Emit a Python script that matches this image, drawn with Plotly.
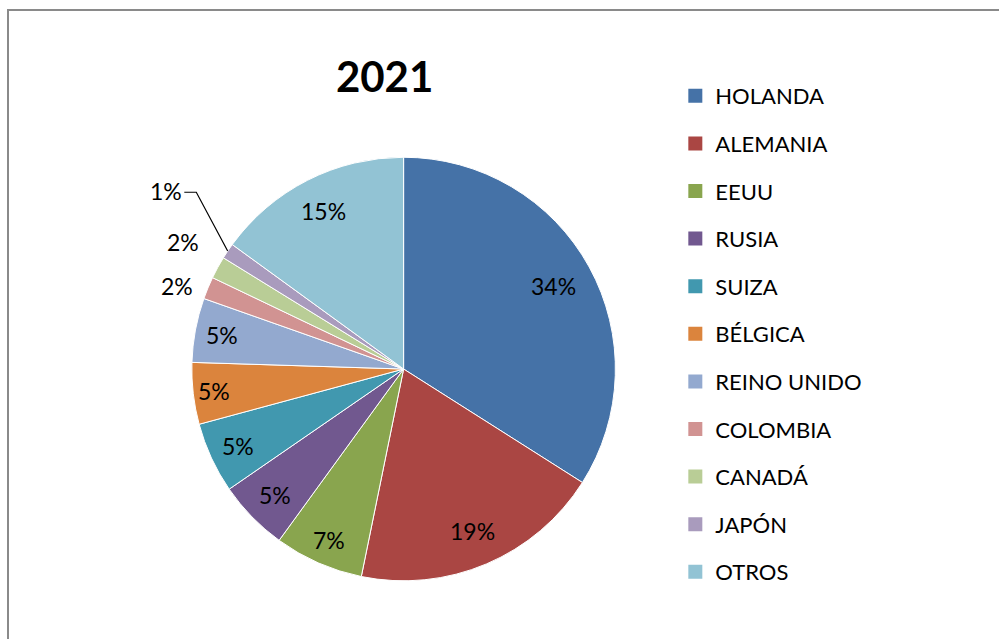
import math
import plotly.graph_objects as go

title_text = "2021"
countries = ["HOLANDA", "ALEMANIA", "EEUU", "RUSIA", "SUIZA", "BÉLGICA",
             "REINO UNIDO", "COLOMBIA", "CANADÁ", "JAPÓN", "OTROS"]
shares = [34.0, 19.2, 6.8, 5.4, 5.4, 4.7, 4.9, 1.7, 1.7, 1.2, 15.0]
colors = ["#4572A7", "#AA4643", "#89A54E", "#71588F", "#4198AF", "#DB843D",
          "#93A9CF", "#D19392", "#B9CD96", "#A99BBD", "#92C3D4"]

# label placement style (radius as fraction of pie radius, angle nudge in degrees)
label_r = [0.81, 0.83, 0.88, 0.85, 0.86, 0.90, 0.87, 1.14, 1.20, 1.40, 0.835]
label_dang = [0, 0, 0, 0, 0, 0, 0, -2.5, 1.3, 3.0, 0]
leader_idx = 9  # label with an elbow leader line

W, H = 999, 639
FONT = "Lato, 'Noto Sans', sans-serif"
dom_x = [0.192, 0.616]
dom_y = [0.091, 0.754]

fig = go.Figure()
fig.add_trace(go.Pie(
    labels=countries, values=shares, sort=False, direction="clockwise",
    rotation=0, marker=dict(colors=colors, line=dict(color="white", width=1)),
    textinfo="none", showlegend=False, hoverinfo="label+percent",
    domain=dict(x=dom_x, y=dom_y),
))

for name, col in zip(countries, colors):
    fig.add_trace(go.Scatter(
        x=[None], y=[None], mode="markers", name=name, legendgroup=name,
        marker=dict(symbol="square", size=14, color=col),
    ))

# pie geometry in pixels
cx = (dom_x[0] + dom_x[1]) / 2 * W
cy = (1 - (dom_y[0] + dom_y[1]) / 2) * H
R = min((dom_x[1] - dom_x[0]) * W, (dom_y[1] - dom_y[0]) * H) / 2
total = sum(shares)


def to_paper(px, py):
    return px / W, 1 - py / H


annotations = []
shapes = [dict(type="rect", xref="paper", yref="paper",
               x0=8 / W, x1=1.02, y0=-0.02, y1=1 - 10 / H,
               line=dict(color="#8a8a8a", width=2))]
cum = 0.0
for i, v in enumerate(shares):
    mid = (cum + v / 2) / total * 360.0
    cum += v
    ang = math.radians(mid + label_dang[i])
    r = label_r[i] * R
    px = cx + r * math.sin(ang)
    py = cy - r * math.cos(ang)
    pct = round(v / total * 100)
    ax_, ay_ = to_paper(px, py)
    annotations.append(dict(x=ax_, y=ay_, xref="paper", yref="paper",
                            text=f"{pct}%", showarrow=False,
                            xanchor="center", yanchor="middle",
                            font=dict(family=FONT, size=23, color="black")))
    if i == leader_idx:
        a = math.radians(mid)
        ex, ey = cx + R * math.sin(a), cy - R * math.cos(a)
        x1, y1 = to_paper(px + 18, py + 1)
        x2, y2 = to_paper(px + 30, py + 1)
        x3, y3 = to_paper(ex, ey)
        shapes.append(dict(type="path", xref="paper", yref="paper",
                           path=f"M {x1},{y1} L {x2},{y2} L {x3},{y3}",
                           line=dict(color="black", width=1.2)))

fig.update_layout(
    width=W, height=H,
    margin=dict(l=0, r=0, t=0, b=0),
    paper_bgcolor="white", plot_bgcolor="white",
    font=dict(family=FONT, color="black"),
    title=dict(text="<b>" + title_text + "</b>", x=0.385, xanchor="center",
               y=1 - 77 / H, yanchor="middle",
               font=dict(family=FONT, size=42, color="black")),
    legend=dict(x=0.676, y=1 - 75 / H, xanchor="left", yanchor="top",
                font=dict(family=FONT, size=22, color="black"),
                tracegroupgap=16, bgcolor="rgba(0,0,0,0)"),
    xaxis=dict(visible=False), yaxis=dict(visible=False),
    annotations=annotations,
    shapes=shapes,
)

fig.write_html("out.html",
               config={"displayModeBar": False},
               post_script="document.body.style.margin='0';"
                           "document.body.style.overflow='hidden';")
